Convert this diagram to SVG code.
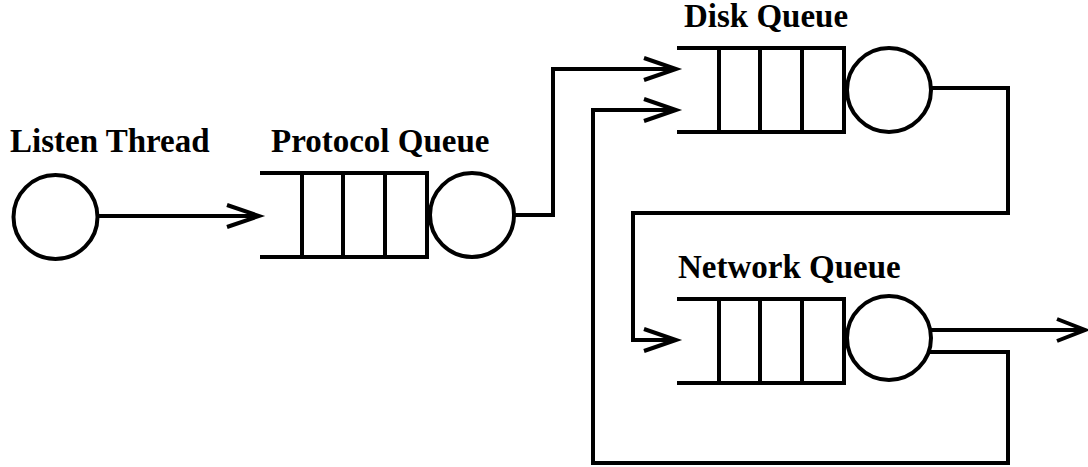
<svg xmlns="http://www.w3.org/2000/svg" width="1088" height="467" viewBox="0 0 1088 467">
<style>
.s{fill:none;stroke:#000;stroke-width:4;stroke-linejoin:miter;stroke-linecap:butt}
.c{fill:#fff;stroke:#000;stroke-width:4}
.t{font-family:"Liberation Serif","Times New Roman",serif;font-weight:bold;font-size:33px;fill:#000}
</style>
<defs>
<g id="q">
<path class="s" d="M0,0 H167 V84 H0 M42,0 V84 M83,0 V84 M125,0 V84"/>
</g>
</defs>
<rect width="1088" height="467" fill="#fff"/>
<g id="connectors">
<path class="s" d="M98,216 H258"/>
<path class="s" d="M227,205 L259,216 L227,227"/>
<path class="s" d="M515,215 H553 V69 H675"/>
<path class="s" d="M644,58 L676,69 L644,80"/>
<path class="s" d="M931,88 H1008 V213 H633 V340 H675"/>
<path class="s" d="M644,329 L676,340 L644,351"/>
<path class="s" d="M929,352 H1008 V463 H593 V110 H675"/>
<path class="s" d="M644,99 L676,110 L644,121"/>
<path class="s" d="M931,330 H1084"/>
<path class="s" d="M1057,319 L1085,330 L1057,341"/>
</g>
<g id="listen-thread">
<circle class="c" cx="55.5" cy="217" r="42"/>
<text class="t" x="10" y="152">Listen Thread</text>
</g>
<g id="protocol-queue">
<use href="#q" x="260" y="173"/>
<circle class="c" cx="472" cy="215" r="42"/>
<text class="t" x="271" y="152">Protocol Queue</text>
</g>
<g id="disk-queue">
<use href="#q" x="677" y="48"/>
<circle class="c" cx="889" cy="90" r="42"/>
<text class="t" x="684" y="27">Disk Queue</text>
</g>
<g id="network-queue">
<use href="#q" x="677" y="299"/>
<circle class="c" cx="889" cy="338" r="42"/>
<text class="t" x="678" y="278">Network Queue</text>
</g>
</svg>
